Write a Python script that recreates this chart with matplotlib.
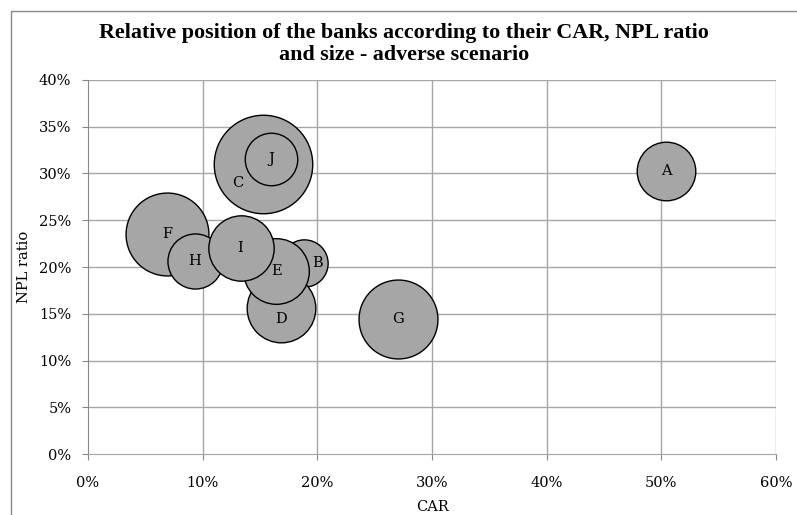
import matplotlib.pyplot as plt
from matplotlib.patches import Rectangle
from matplotlib.ticker import PercentFormatter

# Bank data: capital adequacy ratio (%), NPL ratio (%) and relative size
banks = ['C', 'J', 'F', 'G', 'H', 'B', 'D', 'E', 'I', 'A']
car = [15.3, 16.0, 6.9, 27.0, 9.3, 18.8, 16.8, 16.4, 13.3, 50.4]
npl = [31.0, 31.6, 23.5, 14.4, 20.6, 20.4, 15.6, 19.6, 22.0, 30.3]
size = [24.3, 6.9, 17.2, 15.6, 7.6, 5.6, 11.8, 10.8, 10.7, 8.6]

# Labels that were nudged away from the bubble centre (offset in points)
label_offset = {'C': (-18.5, -13.5), 'B': (10, 0), 'D': (0, -8)}

xticks = [0, 10, 20, 30, 40, 50, 60]
yticks = [0, 5, 10, 15, 20, 25, 30, 35, 40]

title = ('Relative position of the banks according to their CAR, NPL ratio\n'
         'and size - adverse scenario')

plt.rcParams['font.family'] = ['DejaVu Serif']

fig = plt.figure(figsize=(7.97, 5.15), dpi=100)
ax = fig.add_axes([0.1104, 0.1184, 0.8633, 0.7263])

# outer chart border
fig.patches.append(Rectangle((11 / 797, -0.1), 1.2, 1 - 11 / 515 + 0.1,
                             transform=fig.transFigure, fill=False,
                             edgecolor='#888888', linewidth=1))

grid_col = '#A6A6A6'
for xv in xticks[1:]:
    ax.axvline(xv, color=grid_col, linewidth=1, zorder=0)
for yv in yticks[1:]:
    ax.axhline(yv, color=grid_col, linewidth=1, zorder=0)

# bubbles, drawn one at a time so the stacking order is kept
for i, name in enumerate(banks):
    ax.scatter(car[i], npl[i], s=size[i] * 207, color='#A6A6A6',
               edgecolor='black', linewidth=1, zorder=2 + i)
    dx, dy = label_offset.get(name, (0, 0))
    ax.annotate(name, (car[i], npl[i]), xytext=(dx, dy),
                textcoords='offset points', ha='center', va='center',
                fontsize=10.5, zorder=20)

ax.set_xlim(0, 60)
ax.set_ylim(0, 40)
ax.set_xticks(xticks)
ax.set_yticks(yticks)
ax.xaxis.set_major_formatter(PercentFormatter(decimals=0))
ax.yaxis.set_major_formatter(PercentFormatter(decimals=0))
ax.tick_params(axis='both', labelsize=10.5, length=4, color='#888888', pad=8)
ax.tick_params(axis='x', pad=12)

for side in ['top', 'right']:
    ax.spines[side].set_visible(False)
ax.spines['left'].set_color('#888888')
ax.spines['bottom'].set_color('#A6A6A6')

ax.set_xlabel('CAR', fontsize=10.5, labelpad=7)
ax.set_ylabel('NPL ratio', fontsize=10.5, labelpad=5.5)

fig.text(404 / 797, 1 - 23 / 515, title, ha='center', va='top',
         fontsize=15.8, fontweight='bold', family='Liberation Serif',
         linespacing=1.12)

fig.savefig('out.png', dpi=100)
